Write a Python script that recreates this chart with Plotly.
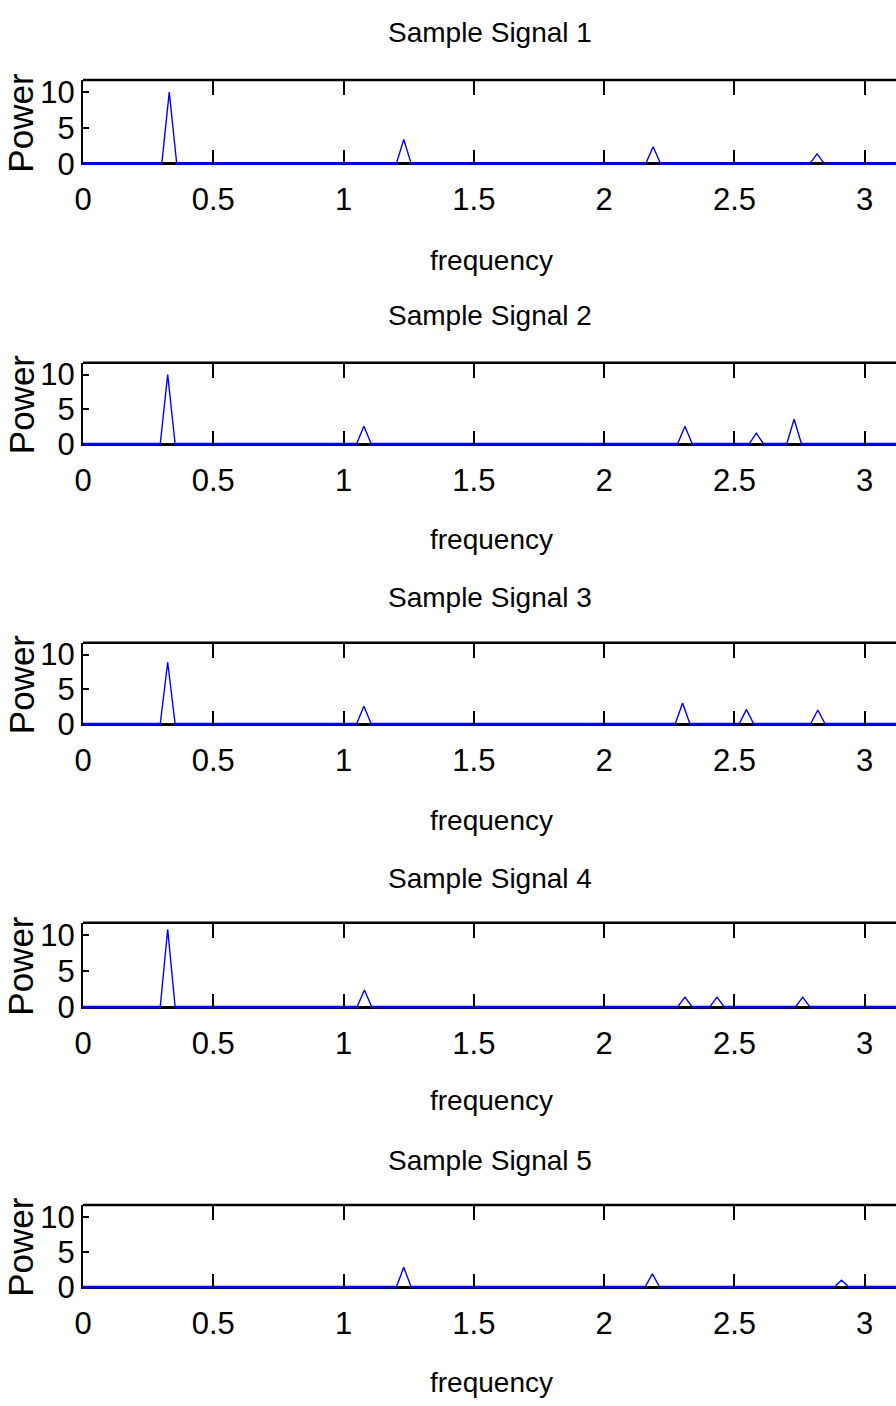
import math
import plotly.graph_objects as go

# ---------------- data ----------------
titles = ["Sample Signal 1", "Sample Signal 2", "Sample Signal 3",
          "Sample Signal 4", "Sample Signal 5"]

freq_resolution = 0.0287  # half-width of a peak (one frequency bin)

sig1_freqs = [0.331, 1.231, 2.188, 2.817]
sig1_power = [10.0, 3.4, 2.4, 1.4]

sig2_freqs = [0.325, 1.078, 2.310, 2.584, 2.729]
sig2_power = [10.0, 2.6, 2.6, 1.6, 3.6]

sig3_freqs = [0.325, 1.078, 2.301, 2.546, 2.820]
sig3_power = [8.9, 2.6, 3.05, 2.1, 2.05]

sig4_freqs = [0.325, 1.080, 2.310, 2.433, 2.762]
sig4_power = [10.8, 2.4, 1.4, 1.4, 1.4]

sig5_freqs = [1.231, 2.185, 2.911]
sig5_power = [2.85, 1.9, 1.0]

all_freqs = [sig1_freqs, sig2_freqs, sig3_freqs, sig4_freqs, sig5_freqs]
all_power = [sig1_power, sig2_power, sig3_power, sig4_power, sig5_power]

x_tick_vals = [0, 0.5, 1, 1.5, 2, 2.5, 3]
x_tick_text = ["0", "0.5", "1", "1.5", "2", "2.5", "3"]
y_tick_vals = [0, 5, 10]
y_tick_text = ["0", "5", "10"]
x_label = "frequency"
y_label = "Power"

# ---------------- layout constants ----------------
W, H = 896, 1406
tops = [80, 362.7, 642.7, 922.7, 1205]
bottoms = [165.3, 445.7, 725.7, 1008.7, 1288.7]
title_y = [33, 316, 597, 878, 1160]
xlab_y = [260, 540, 820, 1100, 1382]
Y_RANGE = [-0.2, 11.7]

FONT = "Liberation Sans, Arial, Helvetica, sans-serif"
BLUE = "#0000ff"

fig = go.Figure()
layout = dict(width=W, height=H, margin=dict(l=0, r=0, t=0, b=0, autoexpand=False),
              plot_bgcolor="white", paper_bgcolor="white", showlegend=False,
              annotations=[], shapes=[])

x_dom = [83 / W, 1.0]
for i in range(5):
    n = i + 1
    xname = "x" if n == 1 else f"x{n}"
    yname = "y" if n == 1 else f"y{n}"
    # full spectrum (thin line through the peaks)
    xs, ys = [0.0], [0.0]
    # baseline segments between peaks (drawn thicker)
    bx, by = [0.0], [0.0]
    for f, p in zip(all_freqs[i], all_power[i]):
        xs += [f - freq_resolution, f, f + freq_resolution]
        ys += [0.0, p, 0.0]
        bx += [f - freq_resolution, None, f + freq_resolution]
        by += [0.0, None, 0.0]
    xs.append(math.pi)
    ys.append(0.0)
    bx.append(math.pi)
    by.append(0.0)
    fig.add_trace(go.Scatter(x=xs, y=ys, mode="lines",
                             line=dict(color=BLUE, width=1.4),
                             hoverinfo="skip",
                             xaxis=xname, yaxis=yname))
    fig.add_trace(go.Scatter(x=bx, y=by, mode="lines", connectgaps=False,
                             line=dict(color=BLUE, width=3),
                             hoverinfo="skip",
                             xaxis=xname, yaxis=yname))
    ydom = [1 - bottoms[i] / H, 1 - tops[i] / H]
    layout[f"xaxis{n}"] = dict(
        domain=x_dom, range=[0, 3.12], anchor=yname, automargin=False,
        tickvals=x_tick_vals, ticktext=x_tick_text,
        ticks="inside", ticklen=15, tickwidth=1.5, tickcolor="black",
        showline=False, mirror="ticks",
        showgrid=False, zeroline=False,
        ticklabelstandoff=13,
        tickfont=dict(family=FONT, size=31, color="black"))
    layout[f"yaxis{n}"] = dict(
        domain=ydom, range=Y_RANGE, anchor=xname, automargin=False,
        tickvals=y_tick_vals, ticktext=y_tick_text,
        ticks="inside", ticklen=6, tickwidth=1.5, tickcolor="black",
        showline=True, linecolor="black", linewidth=2, mirror=False,
        showgrid=False, zeroline=True, zerolinecolor="black", zerolinewidth=2.5,
        layer="below traces",
        tickfont=dict(family=FONT, size=31, color="black"))
    layout[f"yaxis{n + 5}"] = dict(
        overlaying=yname, side="right", anchor=xname, range=Y_RANGE,
        automargin=False,
        tickvals=y_tick_vals, ticks="inside", ticklen=4, tickwidth=1.5,
        tickcolor="black", showticklabels=False, showline=False,
        showgrid=False, zeroline=False)
    # top frame line of the axes box
    layout["shapes"].append(dict(type="line", xref=f"{xname} domain", yref=f"{yname} domain",
                                 x0=0, x1=1, y0=1, y1=1,
                                 line=dict(color="black", width=2.5)))
    layout["annotations"] += [
        dict(text=titles[i], x=490 / W, y=1 - title_y[i] / H, xref="paper", yref="paper",
             xanchor="center", yanchor="middle", showarrow=False,
             font=dict(family=FONT, size=28, color="black")),
        dict(text=x_label, x=491 / W, y=1 - xlab_y[i] / H, xref="paper", yref="paper",
             xanchor="center", yanchor="middle", showarrow=False,
             font=dict(family=FONT, size=28, color="black")),
        dict(text=y_label, x=21 / W, y=1 - (tops[i] + bottoms[i]) / 2 / H,
             xref="paper", yref="paper", xanchor="center", yanchor="middle",
             textangle=-90, showarrow=False,
             font=dict(family=FONT, size=35, color="black")),
    ]

fig.update_layout(**layout)
fig.write_html("out.html", config={"displayModeBar": False},
               post_script="document.body.style.margin='0';"
                           "document.body.style.overflow='hidden';")
